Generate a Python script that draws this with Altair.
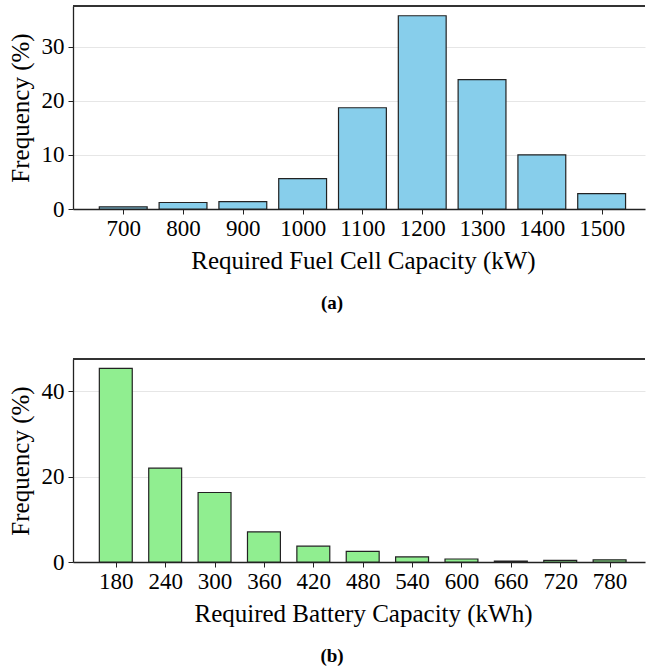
import altair as alt
import pandas as pd

# ---- data ----
fc_capacity = [700, 800, 900, 1000, 1100, 1200, 1300, 1400, 1500]
fc_freq = [0.4, 1.2, 1.35, 5.6, 18.7, 35.7, 23.9, 10.0, 2.85]

bat_capacity = [180, 240, 300, 360, 420, 480, 540, 600, 660, 720, 780]
bat_freq = [45.4, 22.0, 16.3, 7.05, 3.7, 2.5, 1.2, 0.7, 0.2, 0.4, 0.5]

fc_ticks = fc_capacity
bat_ticks = bat_capacity
fc_yticks = [0, 10, 20, 30]
bat_yticks = [0, 20, 40]

FONT = "'Liberation Serif', 'Times New Roman', Times, serif"
W = 572
H = 203


def panel(caps, freqs, half, xdomain, xticks, xtitle, ydomain, yticks, color, label, title_x):
    df = pd.DataFrame({"cap": caps, "freq": freqs})
    base = alt.Chart(df)
    bars = base.mark_bar(
        color=color, stroke="#222222", strokeWidth=1.2
    ).transform_calculate(
        x0=f"datum.cap - {half}", x1=f"datum.cap + {half}", y0="0"
    ).encode(
        x=alt.X(
            "x0:Q",
            scale=alt.Scale(domain=xdomain, nice=False, zero=False),
            axis=alt.Axis(
                values=xticks, title=xtitle, grid=False, format="d",
                labelFont=FONT, labelFontSize=23, labelColor="black",
                titleFont=FONT, titleFontSize=25, titleFontWeight="normal",
                titleColor="black", titlePadding=8, titleX=title_x,
                domainColor="#222222", domainWidth=1.3,
                tickColor="#222222", tickSize=5, tickWidth=1,
                labelPadding=3,
            ),
        ),
        x2="x1:Q",
        y=alt.Y(
            "freq:Q",
            scale=alt.Scale(domain=ydomain, nice=False),
            axis=alt.Axis(
                values=yticks, title="Frequency (%)", grid=True,
                gridColor="#e6e6e6", gridWidth=1,
                labelFont=FONT, labelFontSize=23, labelColor="black",
                titleFont=FONT, titleFontSize=25, titleFontWeight="normal",
                titleColor="black", titlePadding=8,
                domainColor="#222222", domainWidth=1.3,
                tickColor="#222222", tickSize=5, tickWidth=1,
                labelPadding=4,
            ),
        ),
        y2="y0:Q",
    )
    top = base.mark_rule(color="#333333", strokeWidth=1.2).encode(
        y=alt.value(0), x=alt.value(0), x2=alt.value(W)
    )
    return alt.layer(bars, top).properties(
        width=W, height=H,
        title=alt.TitleParams(
            label, orient="bottom", font=FONT, fontSize=19, fontWeight="bold",
            color="black", offset=21, dx=-27,
        ),
    )


chart_a = panel(fc_capacity, fc_freq, 40, [616, 1572.5], fc_ticks,
                "Required Fuel Cell Capacity (kW)", [0, 37.5], fc_yticks,
                "#87CEEB", "(a)", 290)
chart_b = panel(bat_capacity, bat_freq, 20, [128, 823], bat_ticks,
                "Required Battery Capacity (kWh)", [0, 47.6], bat_yticks,
                "#90EE90", "(b)", 290)

chart = alt.vconcat(chart_a, chart_b, spacing=45).configure_view(
    stroke=None
).properties(
    padding={"left": 8, "top": 5, "right": 0, "bottom": 5}
)

chart.save("out.html", embed_options={"renderer": "svg", "actions": False})
